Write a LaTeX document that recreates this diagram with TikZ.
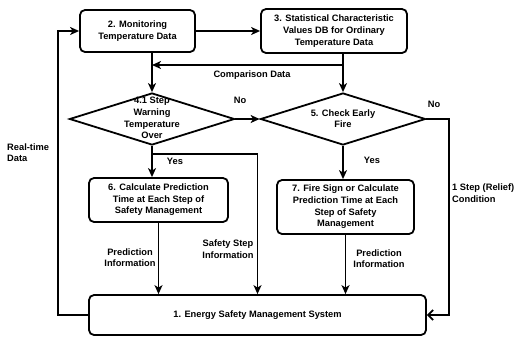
\documentclass[tikz,border=0pt]{standalone}
\usepackage{fontspec}
\setmainfont{Liberation Sans}
\usetikzlibrary{arrows.meta, positioning, shapes.geometric, calc}

\begin{document}
\begin{tikzpicture}[x=1pt, y=-1pt,
    every node/.style={font=\fontsize{9.3}{11.6}\selectfont\bfseries},
    box/.style={rounded corners=5pt, draw, line width=1.8pt, fill=white, align=center, inner sep=2pt},
    dec/.style={diamond, draw, line width=1.8pt, inner sep=0pt, minimum width=165pt, minimum height=52pt},
    a/.style={-{Stealth[length=9pt, width=8pt, inset=2.5pt]}, line width=1.8pt},
    ao/.style={-{Straight Barb[length=5pt, width=10pt]}, line width=1.8pt},
    al/.style={align=center, inner sep=1pt}
]
\useasboundingbox (0,0) rectangle (521,338);
% top row
\node[box, minimum width=115pt, minimum height=42pt] (mon) at (137.5,31) {2. Monitoring\\Temperature Data};
\node[box, minimum width=146pt, minimum height=44pt] (db)  at (334,31) {3. Statistical Characteristic\\Values DB for Ordinary\\Temperature Data};
\draw[a] (mon.east) -- (db.west);
% decisions
\node[dec] (warn) at (152,119) {};
\node[al] (warnt) at (152,118) {4.1 Step\\Warning\\Temperature\\Over};
\node[dec] (fire) at (343,119) {};
\node[al] (firet) at (343,118.5) {5. Check Early\\Fire};
\coordinate (cmp) at (0,65);
\draw[a] (warn.north |- mon.south) -- (warn.north);
\draw[a] (fire.north |- db.south) -- (fire.north);
\draw[a] (fire.north |- cmp) -- (warn.north |- cmp);
\node[al] (cmpl) at (252,75) {Comparison Data};
\draw[a] (warn.east) -- (fire.west);
\node[al] (no1) at (240,100) {No};
% prediction boxes
\node[box, minimum width=139pt, minimum height=44pt] (calc) at (158.5,200) {6. Calculate Prediction\\Time at Each Step of\\Safety Management};
\node[box, minimum width=137pt, minimum height=54pt] (sign) at (345.5,207) {7. Fire Sign or Calculate\\Prediction Time at Each\\Step of Safety\\Management};
% system
\node[box, minimum width=337pt, minimum height=40pt] (ems) at (257.5,315) {1. Energy Safety Management System};
\draw[a] (warn.south) -- (warn.south |- calc.north);
\node[al] (yes1) at (175,161) {Yes};
\coordinate (ys) at (152,154);
\draw[a] (ys) -| (ems.north);
\node[al] (ssi) at (228,249) {Safety Step\\Information};
\draw[a] (calc.south) -- (calc.south |- ems.north);
\node[al] (pi1) at (130,257.5) {Prediction\\Information};
\draw[a] (fire.south) -- (fire.south |- sign.north);
\node[al] (yes2) at (372,160) {Yes};
\draw[a] (sign.south) -- (sign.south |- ems.north);
\node[al] (pi2) at (379,258.5) {Prediction\\Information};
% no / relief path
\coordinate (rr) at (449,0);
\draw[ao] (fire.east) -| (rr |- ems.east) -- (ems.east);
\node[al] (no2) at (434,104) {No};
\node[al, anchor=west, align=left] (rel) at (451,193) {1 Step (Relief)\\Condition};
% real-time loop
\coordinate (lp) at (58,0);
\draw[a] (ems.west) -| (lp |- mon.west) -- (mon.west);
\node[al, anchor=west, align=left] (rt) at (6,152.5) {Real-time\\Data};
\end{tikzpicture}
\end{document}
